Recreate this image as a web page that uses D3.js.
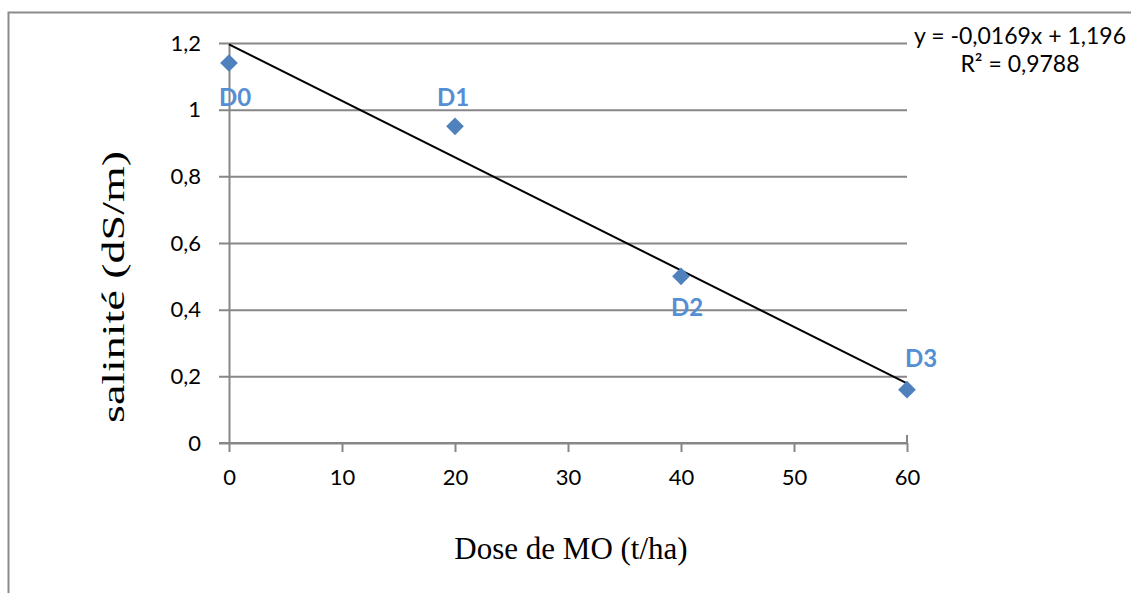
<!DOCTYPE html>
<html>
<head>
<meta charset="utf-8">
<script src="https://cdn.jsdelivr.net/npm/d3@7"></script>
<style>
	body { margin: 0; background: #fff; }
	svg { display: block; }
	.tick text { font-family: Lato, "Open Sans", sans-serif; font-size: 22px; fill: #000; }
	.titre { font-family: "Liberation Serif", "Times New Roman", serif; font-size: 31px; fill: #000; }
	.etiquette { font-family: Lato, "Open Sans", sans-serif; font-size: 24px; font-weight: bold; fill: #558ED5; }
	.equation { font-family: Lato, "Open Sans", sans-serif; font-size: 23px; fill: #000; }
</style>
</head>
<body>
<div id="graph"></div>
<script>
// donnees
const doses = [0, 20, 40, 60];
const salinite = [1.14, 0.95, 0.50, 0.16];
const etiquettes = ["D0", "D1", "D2", "D3"];
const xTicks = [0, 10, 20, 30, 40, 50, 60];
const yTicks = [0, 0.2, 0.4, 0.6, 0.8, 1, 1.2];
const equationLabels = ["y = -0,0169x + 1,196", "R\u00b2 = 0,9788"];

const dimensions = {
	width: 1131,
	height: 593,
	margin: { top: 43, right: 224, bottom: 150, left: 229 }
};
dimensions.inner = {
	width: dimensions.width - dimensions.margin.left - dimensions.margin.right,
	height: dimensions.height - dimensions.margin.top - dimensions.margin.bottom
};

const svg_outer = d3.select('#graph')
	.append('svg')
	.attr('width', dimensions.width)
	.attr('height', dimensions.height);

// cadre du graphique
svg_outer.append('rect')
	.attr('x', 8.5).attr('y', 12.5)
	.attr('width', 1140).attr('height', 600)
	.attr('fill', 'none')
	.attr('stroke', '#8c8c8c')
	.attr('stroke-width', 2);

const svg = svg_outer.append('g')
	.attr('transform', `translate(${dimensions.margin.left}, ${dimensions.margin.top})`);

const x = d3.scaleLinear().domain([0, 60]).range([0, dimensions.inner.width]);
const y = d3.scaleLinear().domain([0, 1.2]).range([dimensions.inner.height, 0]);

const fmt = d => String(d).replace('.', ',');

// grille horizontale
svg.append('g')
	.call(d3.axisLeft(y).tickValues(yTicks).tickSize(-dimensions.inner.width - 10).tickFormat(''))
	.attr('transform', 'translate(-10, 0)')
	.call(g => g.select('.domain').remove())
	.call(g => g.selectAll('line').attr('stroke', '#878787').attr('stroke-width', 2));

// axe y
svg.append('g')
	.call(d3.axisLeft(y).tickValues(yTicks).tickSize(0).tickPadding(28).tickFormat(fmt))
	.call(g => g.select('.domain').attr('stroke', '#878787').attr('stroke-width', 2));

// axe x
svg.append('g')
	.attr('transform', `translate(0, ${dimensions.inner.height})`)
	.call(d3.axisBottom(x).tickValues(xTicks).tickSize(9).tickSizeOuter(0).tickPadding(17).tickFormat(fmt))
	.call(g => g.select('.domain').attr('stroke', '#878787').attr('stroke-width', 2).attr('d', `M-10,0H${dimensions.inner.width}`))
	.call(g => g.selectAll('line').attr('stroke', '#878787').attr('stroke-width', 2));

// petit trait de fin en haut de l'axe x
svg.append('line')
	.attr('x1', x(60)).attr('x2', x(60))
	.attr('y1', dimensions.inner.height).attr('y2', dimensions.inner.height - 8)
	.attr('stroke', '#878787').attr('stroke-width', 2);

// droite de regression (moindres carres)
const mx = d3.mean(doses), my = d3.mean(salinite);
const pente = d3.sum(doses, (d, i) => (d - mx) * (salinite[i] - my)) / d3.sum(doses, d => (d - mx) * (d - mx));
const origine = my - pente * mx;
svg.append('line')
	.attr('x1', x(0)).attr('y1', y(origine))
	.attr('x2', x(60)).attr('y2', y(origine + pente * 60))
	.attr('stroke', '#000').attr('stroke-width', 2);

// points
const points = doses.map((d, i) => ({ dose: d, valeur: salinite[i], label: etiquettes[i] }));
svg.selectAll('path.point')
	.data(points)
	.join('path')
	.attr('class', 'point')
	.attr('d', d3.symbol().type(d3.symbolDiamond2).size(200))
	.attr('transform', d => `translate(${x(d.dose)}, ${y(d.valeur)})`)
	.attr('fill', '#4F81BD');

// etiquettes des points (decalages)
const decalages = [[6, 33], [-2, -30], [6, 30], [14, -32]];
svg.selectAll('text.etiquette')
	.data(points)
	.join('text')
	.attr('class', 'etiquette')
	.attr('text-anchor', 'middle')
	.attr('dominant-baseline', 'central')
	.attr('x', (d, i) => x(d.dose) + decalages[i][0])
	.attr('y', (d, i) => y(d.valeur) + decalages[i][1])
	.text(d => d.label);

// equation
svg_outer.selectAll('text.equation')
	.data(equationLabels)
	.join('text')
	.attr('class', 'equation')
	.attr('text-anchor', 'middle')
	.attr('dominant-baseline', 'central')
	.attr('x', 1020)
	.attr('y', (d, i) => i === 0 ? 35 : 63)
	.text(d => d);

// titres des axes (le titre vertical est etire dans l'original)
svg_outer.append('text')
	.attr('class', 'titre')
	.attr('text-anchor', 'middle')
	.attr('dominant-baseline', 'central')
	.attr('transform', 'translate(113, 287) rotate(-90)')
	.attr('textLength', 272)
	.attr('lengthAdjust', 'spacingAndGlyphs')
	.text('salinité (dS/m)');

svg_outer.append('text')
	.attr('class', 'titre')
	.attr('text-anchor', 'middle')
	.attr('dominant-baseline', 'central')
	.attr('x', 571).attr('y', 548)
	.text('Dose de MO (t/ha)');
</script>
</body>
</html>
